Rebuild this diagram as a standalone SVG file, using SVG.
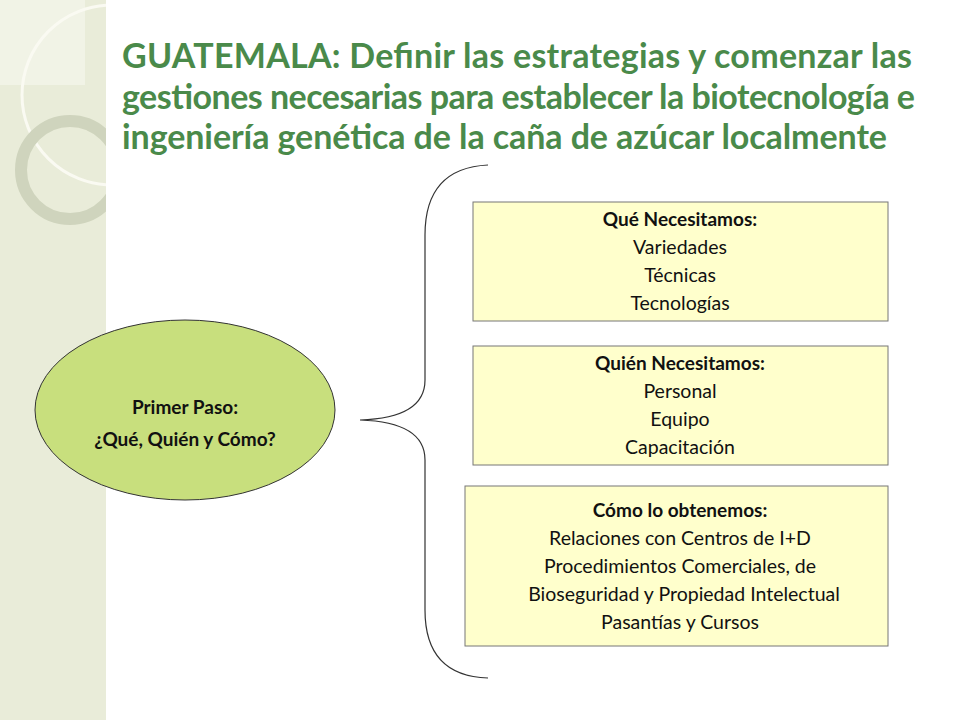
<svg xmlns="http://www.w3.org/2000/svg" width="960" height="720" viewBox="0 0 960 720">
<style>
.t{font-family:Lato,"Open Sans",sans-serif;font-weight:bold;font-size:34px;fill:#4a8a4a}
.b{fill:#ffffcc;stroke:#777;stroke-width:1}
.h{font-family:Lato,"Open Sans",sans-serif;font-weight:bold;font-size:19px;fill:#111;text-anchor:middle}
.n{font-family:Lato,"Open Sans",sans-serif;font-size:19.5px;fill:#111;text-anchor:middle}
</style>
<rect width="960" height="720" fill="#fff"/>
<clipPath id="c"><rect width="106" height="720"/></clipPath>
<rect width="106" height="720" fill="#e9ecd9"/>
<g clip-path="url(#c)">
<rect width="85" height="85" fill="#f1f3e6"/>
<circle cx="112" cy="95" r="90" fill="none" stroke="#fafaf2" stroke-width="3"/>
<circle cx="70" cy="170" r="49" fill="none" stroke="#cfd4bd" stroke-width="12"/>
</g>
<text class="t"><tspan x="122" y="68" textLength="790">GUATEMALA: Definir las estrategias y comenzar las</tspan></text>
<text class="t"><tspan x="122" y="109" textLength="793">gestiones necesarias para establecer la biotecnología e</tspan></text>
<text class="t"><tspan x="122" y="149" textLength="765">ingeniería genética de la caña de azúcar localmente</tspan></text>
<g id="connectors"><path d="M488,165 Q425,168 425,235 L425,380 Q425,418 360,420 Q425,422 425,460 L425,610 Q425,676 488,678" fill="none" stroke="#333" stroke-width="1.2"/></g>
<g id="paso"><ellipse cx="185" cy="410" rx="150" ry="90" fill="#c8df7d" stroke="#333" stroke-width="1"/>
<text class="h" x="185" y="414">Primer Paso:</text><text class="h" x="185" y="446">¿Qué, Quién y Cómo?</text></g>
<g id="que"><rect class="b" x="473" y="202" width="415" height="119"/>
<text class="h" x="680" y="226">Qué Necesitamos:</text><text class="n" x="680" y="254">Variedades</text><text class="n" x="680" y="282">Técnicas</text><text class="n" x="680" y="310">Tecnologías</text></g>
<g id="quien"><rect class="b" x="473" y="346" width="415" height="119"/>
<text class="h" x="680" y="370">Quién Necesitamos:</text><text class="n" x="680" y="398">Personal</text><text class="n" x="680" y="426">Equipo</text><text class="n" x="680" y="454">Capacitación</text></g>
<g id="como"><rect class="b" x="465" y="486" width="423" height="160"/>
<text class="h" x="680" y="517">Cómo lo obtenemos:</text><text class="n" x="680" y="545">Relaciones con Centros de I+D</text><text class="n" x="680" y="573">Procedimientos Comerciales, de</text><text class="n" x="684" y="601">Bioseguridad y Propiedad Intelectual</text><text class="n" x="680" y="629">Pasantías y Cursos</text></g>
</svg>
